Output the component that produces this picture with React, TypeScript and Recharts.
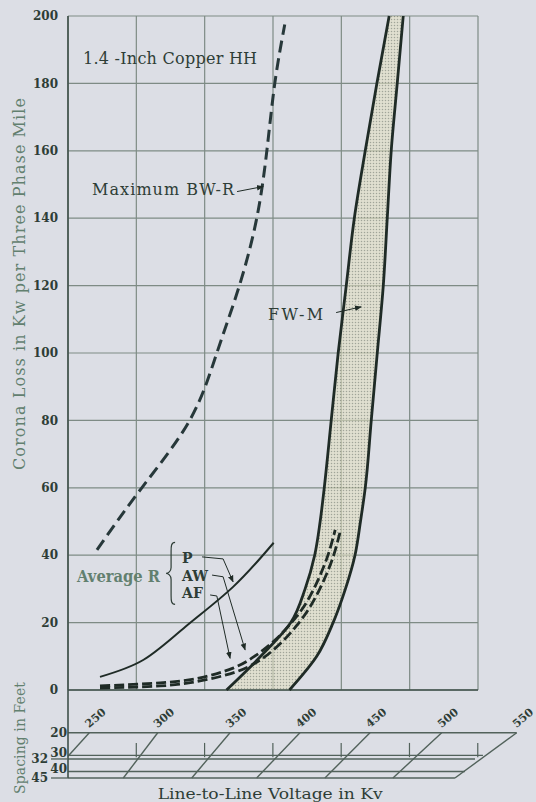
import {
  Area,
  CartesianGrid,
  ComposedChart,
  Line,
  ReferenceDot,
  ReferenceLine,
  XAxis,
  YAxis,
} from 'recharts';

const BG = '#dcdee5';
const INK = '#1f2b26';
const DASH_INK = '#27383a';
const GRID = '#7e8b85';
const NOMO = '#52625b';
const TEXT = '#2e3d36';
const SOFT = '#62806f';
const SERIF = '"DejaVu Serif", "Liberation Serif", serif';

const kvTicks = [250, 300, 350, 400, 450, 500, 550];
const lossTicks = [0, 20, 40, 60, 80, 100, 120, 140, 160, 180, 200];

// FW-M band: left and right edge voltage at each loss level
const bandLoss = [0, 10, 20, 30, 40, 50, 60, 80, 100, 120, 140, 160, 180, 200];
const bandLow = [366, 391, 413, 423.5, 430.5, 434.5, 437.5, 442.6, 447.7, 453.6, 459.5, 467.5, 476, 485];
const bandHigh = [412, 432, 444, 453, 460, 464, 467.5, 471.9, 476.3, 480.7, 483.6, 486.5, 490.9, 495.3];

// Maximum BW-R
const bwrLoss = [41.6, 60, 80, 100, 120, 140, 160, 180, 197.5];
const bwrKv = [271.2, 304, 339, 358.9, 375.4, 388.1, 395.5, 401.3, 408.6];

// Average R, P
const pLoss = [3.9, 8.9, 18.7, 30.6, 43.7];
const pKv = [273.4, 305, 335.7, 370.8, 400.5];

// Average R, AW and AF
const awLoss = [1.2, 2.1, 3.6, 6.5, 10.1, 14.8, 20.2, 25.8, 32.7, 40.1, 47.5];
const awKv = [273.4, 317.4, 346.6, 370.8, 386.9, 401.5, 414, 424.2, 433, 440.3, 445.5];
const afLoss = [0.6, 1.2, 2.7, 5.3, 8.9, 13.7, 19.3, 25.2, 32.1, 39.5, 46.9];
const afKv = [273.4, 317.4, 346.6, 372.3, 390.6, 405.2, 417.7, 427.9, 436.7, 444, 449.1];

// leader arrows
const pLeaderLoss = [39.5, 38.9, 32.1];
const pLeaderKv = [348.1, 363.5, 370.8];
const awLeaderLoss = [34.1, 33.6, 11.9];
const awLeaderKv = [355.4, 363.5, 379.6];
const afLeaderLoss = [28.2, 27.9, 9.4];
const afLeaderKv = [354, 358.9, 368.6];
const bwrArrowLoss = [147.9, 149.4];
const bwrArrowKv = [373.7, 392.8];
const fwmArrowLoss = [112, 113.7];
const fwmArrowKv = [446.2, 464.5];

// spacing nomogram below the plot
const spacingTicks = [20, 30, 32, 40, 45];
const rowEndKv = [578.5, 553.8, 548, 540.6, 533.3];
const slantKv = [250, 300, 350, 400, 450, 500, 550];
const slantTopKv = [265.6, 315.7, 368.6, 419.8, 471.1, 523.6, 578.5];
const slantBottomKv = [250, 290.5, 340.6, 388.1, 438.1, 487.9, 533.3];
const slantBottomSpacing = [30.5, 45, 45, 45, 45, 45, 45];
const markKv = [300, 350, 400, 450, 500, 550];
const markSpacing = [24, 31];

const pairs = (loss: number[], kv: number[]) => loss.map((y, i) => ({ y, v: kv[i] }));

const bandRows = bandLoss.map((y, i) => ({
  y,
  lo: bandLow[i],
  hi: bandHigh[i],
  range: [bandLow[i], bandHigh[i]],
}));

const tickStyle = { fontFamily: SERIF, fontWeight: 700, fontSize: 12, fill: TEXT };
const noteStyle = { fontFamily: SERIF, fontSize: 16, fill: TEXT };

function at(key: string, x: number, y: number, draw: (cx: number, cy: number) => JSX.Element) {
  return (
    <ReferenceDot
      key={key}
      x={x}
      y={y}
      r={0}
      fill="none"
      stroke="none"
      ifOverflow="visible"
      label={(p: any) => draw(p.viewBox.x, p.viewBox.y)}
    />
  );
}

function SpacingTick({ x, y, payload }: any) {
  const far = payload.value === 32 || payload.value === 45;
  const lift = payload.value === 30 || payload.value === 40 ? -2 : 0;
  return (
    <g>
      {far && <line x1={x - 17} x2={x} y1={y} y2={y} stroke={NOMO} strokeWidth={1.3} />}
      <text x={far ? x - 20 : x - 1} y={y + 4 + lift} textAnchor="end" {...tickStyle}>
        {payload.value}
      </text>
    </g>
  );
}

function LossChart() {
  const dashed = (key: string, data: { y: number; v: number }[], dash: string, width: number) => (
    <Line
      key={key}
      data={data}
      dataKey="v"
      type="natural"
      stroke={key === 'bwr' ? DASH_INK : INK}
      strokeWidth={width}
      strokeDasharray={dash}
      dot={false}
      activeDot={false}
      isAnimationActive={false}
    />
  );
  const leader = (key: string, data: { y: number; v: number }[]) => (
    <Line
      key={key}
      data={data}
      dataKey="v"
      type="linear"
      stroke={INK}
      strokeWidth={1}
      markerEnd="url(#arrowHead)"
      dot={false}
      activeDot={false}
      isAnimationActive={false}
    />
  );

  return (
    <ComposedChart
      layout="vertical"
      width={536}
      height={700}
      margin={{ top: 16, right: 58, bottom: 10, left: 0 }}
    >
      <defs>
        <pattern id="stipple" width="3" height="3" patternUnits="userSpaceOnUse">
          <rect width="3" height="3" fill="#e2e0c2" />
          <circle cx="1.5" cy="1.5" r="0.75" fill="#7a7d66" />
        </pattern>
        <marker
          id="arrowHead"
          viewBox="0 0 10 10"
          refX="9"
          refY="5"
          markerWidth="7"
          markerHeight="7"
          markerUnits="userSpaceOnUse"
          orient="auto"
        >
          <path d="M0,1 L10,5 L0,9 z" fill={INK} />
        </marker>
      </defs>
      <CartesianGrid stroke={GRID} strokeWidth={1.2} />
      <XAxis type="number" domain={[250, 550]} ticks={kvTicks} hide />
      <YAxis
        type="number"
        dataKey="y"
        domain={[0, 200]}
        ticks={lossTicks}
        interval={0}
        reversed
        width={68}
        tickLine={false}
        tickMargin={4}
        axisLine={{ stroke: '#3f514a', strokeWidth: 1.6 }}
        tick={tickStyle}
        label={(p: any) => (
          <text
            transform={`rotate(-90, ${p.viewBox.x + 20}, 284)`}
            x={p.viewBox.x + 20}
            y={284}
            dy={5}
            textAnchor="middle"
            textLength={372}
            lengthAdjust="spacing"
            fontFamily={SERIF}
            fontSize={16}
            fill={SOFT}
          >
            Corona Loss in Kw per Three Phase Mile
          </text>
        )}
      />
      <ReferenceLine y={0} stroke="#3f514a" strokeWidth={1.6} />

      <Area
        data={bandRows}
        dataKey="range"
        type="monotone"
        fill="url(#stipple)"
        stroke="none"
        isAnimationActive={false}
      />
      <Line data={bandRows} dataKey="lo" type="monotone" stroke={INK} strokeWidth={2.8} dot={false} activeDot={false} isAnimationActive={false} />
      <Line data={bandRows} dataKey="hi" type="monotone" stroke={INK} strokeWidth={2.8} dot={false} activeDot={false} isAnimationActive={false} />

      {dashed('aw', pairs(awLoss, awKv), '10 4', 2.8)}
      {dashed('af', pairs(afLoss, afKv), '10 4', 2.8)}
      <Line
        data={pairs(pLoss, pKv)}
        dataKey="v"
        type="natural"
        stroke={INK}
        strokeWidth={2}
        dot={false}
        activeDot={false}
        isAnimationActive={false}
      />
      {dashed('bwr', pairs(bwrLoss, bwrKv), '12 6', 3)}

      {leader('pl', pairs(pLeaderLoss, pLeaderKv))}
      {leader('awl', pairs(awLeaderLoss, awLeaderKv))}
      {leader('afl', pairs(afLeaderLoss, afLeaderKv))}
      {leader('bwra', pairs(bwrArrowLoss, bwrArrowKv))}
      {leader('fwma', pairs(fwmArrowLoss, fwmArrowKv))}

      {at('copper', 261, 185.9, (x, y) => (
        <text x={x} y={y} textLength={174} lengthAdjust="spacing" {...noteStyle}>
          1.4 -Inch Copper HH
        </text>
      ))}
      {at('bwrText', 267.6, 147, (x, y) => (
        <text x={x} y={y} textLength={142} lengthAdjust="spacing" {...noteStyle}>
          Maximum BW-R
        </text>
      ))}
      {at('fwmText', 396.4, 109.9, (x, y) => (
        <text x={x} y={y} textLength={55} lengthAdjust="spacing" {...noteStyle}>
          FW-M
        </text>
      ))}
      {at('avgText', 256.6, 32.1, (x, y) => (
        <text x={x} y={y} textLength={83} lengthAdjust="spacingAndGlyphs" {...noteStyle} fontWeight={700} fill={SOFT}>
          Average R
        </text>
      ))}
      {at('brace', 324.7, 34.6, (x, y) => (
        <path
          d={`M${x + 5},${y - 31} C${x + 1},${y - 31} ${x + 1},${y - 27} ${x + 1},${y - 22} L${x + 1},${y - 6} C${x + 1},${y - 2} ${x - 2},${y} ${x - 4},${y} C${x - 2},${y} ${x + 1},${y + 2} ${x + 1},${y + 6} L${x + 1},${y + 22} C${x + 1},${y + 27} ${x + 1},${y + 31} ${x + 5},${y + 31}`}
          fill="none"
          stroke={TEXT}
          strokeWidth={1.2}
        />
      ))}
      {at('pText', 333.5, 37.7, (x, y) => (
        <text x={x} y={y} {...noteStyle} fontSize={14} fontWeight={700}>
          P
        </text>
      ))}
      {at('awText', 333.5, 32.4, (x, y) => (
        <text x={x} y={y} {...noteStyle} fontSize={14} fontWeight={700}>
          AW
        </text>
      ))}
      {at('afText', 333.5, 27.3, (x, y) => (
        <text x={x} y={y} {...noteStyle} fontSize={14} fontWeight={700}>
          AF
        </text>
      ))}
    </ComposedChart>
  );
}

function SpacingChart() {
  const seg = (key: string, data: { x: number; s: number }[], width = 1.4) => (
    <Line
      key={key}
      data={data}
      dataKey="s"
      type="linear"
      stroke={NOMO}
      strokeWidth={width}
      dot={false}
      activeDot={false}
      isAnimationActive={false}
    />
  );

  return (
    <ComposedChart width={536} height={132} margin={{ top: 20, right: 3.6, bottom: 24, left: 0 }}>
      <XAxis type="number" dataKey="x" domain={[250, 590]} hide />
      <YAxis
        type="number"
        scale="log"
        domain={[9.3, 45]}
        ticks={spacingTicks}
        interval={0}
        reversed
        width={68}
        tickLine={false}
        tickSize={0}
        tickMargin={0}
        axisLine={{ stroke: '#3f514a', strokeWidth: 1.6 }}
        tick={<SpacingTick />}
        label={(p: any) => (
          <text
            transform={`rotate(-90, ${p.viewBox.x + 20}, 68)`}
            x={p.viewBox.x + 20}
            y={68}
            dy={5}
            textAnchor="middle"
            textLength={112}
            lengthAdjust="spacing"
            fontFamily={SERIF}
            fontSize={14}
            fill={SOFT}
          >
            Spacing in Feet
          </text>
        )}
      />

      {spacingTicks.map((s, i) =>
        seg(`row${s}`, [
          { x: 250, s },
          { x: rowEndKv[i], s },
        ]),
      )}
      {slantKv.map((kv, i) =>
        seg(`slant${kv}`, [
          { x: slantTopKv[i], s: 20 },
          { x: slantBottomKv[i], s: slantBottomSpacing[i] },
        ]),
      )}
      {markKv.map((kv) =>
        seg(`mark${kv}`, [
          { x: kv, s: markSpacing[0] },
          { x: kv, s: markSpacing[1] },
        ], 1.2),
      )}

      {slantKv.map((kv, i) =>
        at(`lab${kv}`, slantTopKv[i], 20, (x, y) => (
          <text
            transform={`rotate(-40, ${x + 6}, ${y - 15})`}
            x={x + 6}
            y={y - 15}
            dy={4}
            textAnchor="middle"
            {...tickStyle}
            fontSize={11}
          >
            {kv}
          </text>
        )),
      )}
      {at('xTitle', 398, 45, (x, y) => (
        <text
          x={x}
          y={y + 21}
          textAnchor="middle"
          textLength={225}
          lengthAdjust="spacingAndGlyphs"
          fontFamily={SERIF}
          fontSize={15}
          fill={TEXT}
        >
          Line-to-Line Voltage in Kv
        </text>
      ))}
    </ComposedChart>
  );
}

export default function App() {
  return (
    <div
      style={{
        position: 'fixed',
        left: 0,
        top: 0,
        width: 536,
        height: 802,
        overflow: 'hidden',
        background: BG,
      }}
    >
      <div style={{ position: 'absolute', left: 0, top: 0 }}>
        <LossChart />
      </div>
      <div style={{ position: 'absolute', left: 0, top: 670 }}>
        <SpacingChart />
      </div>
    </div>
  );
}
